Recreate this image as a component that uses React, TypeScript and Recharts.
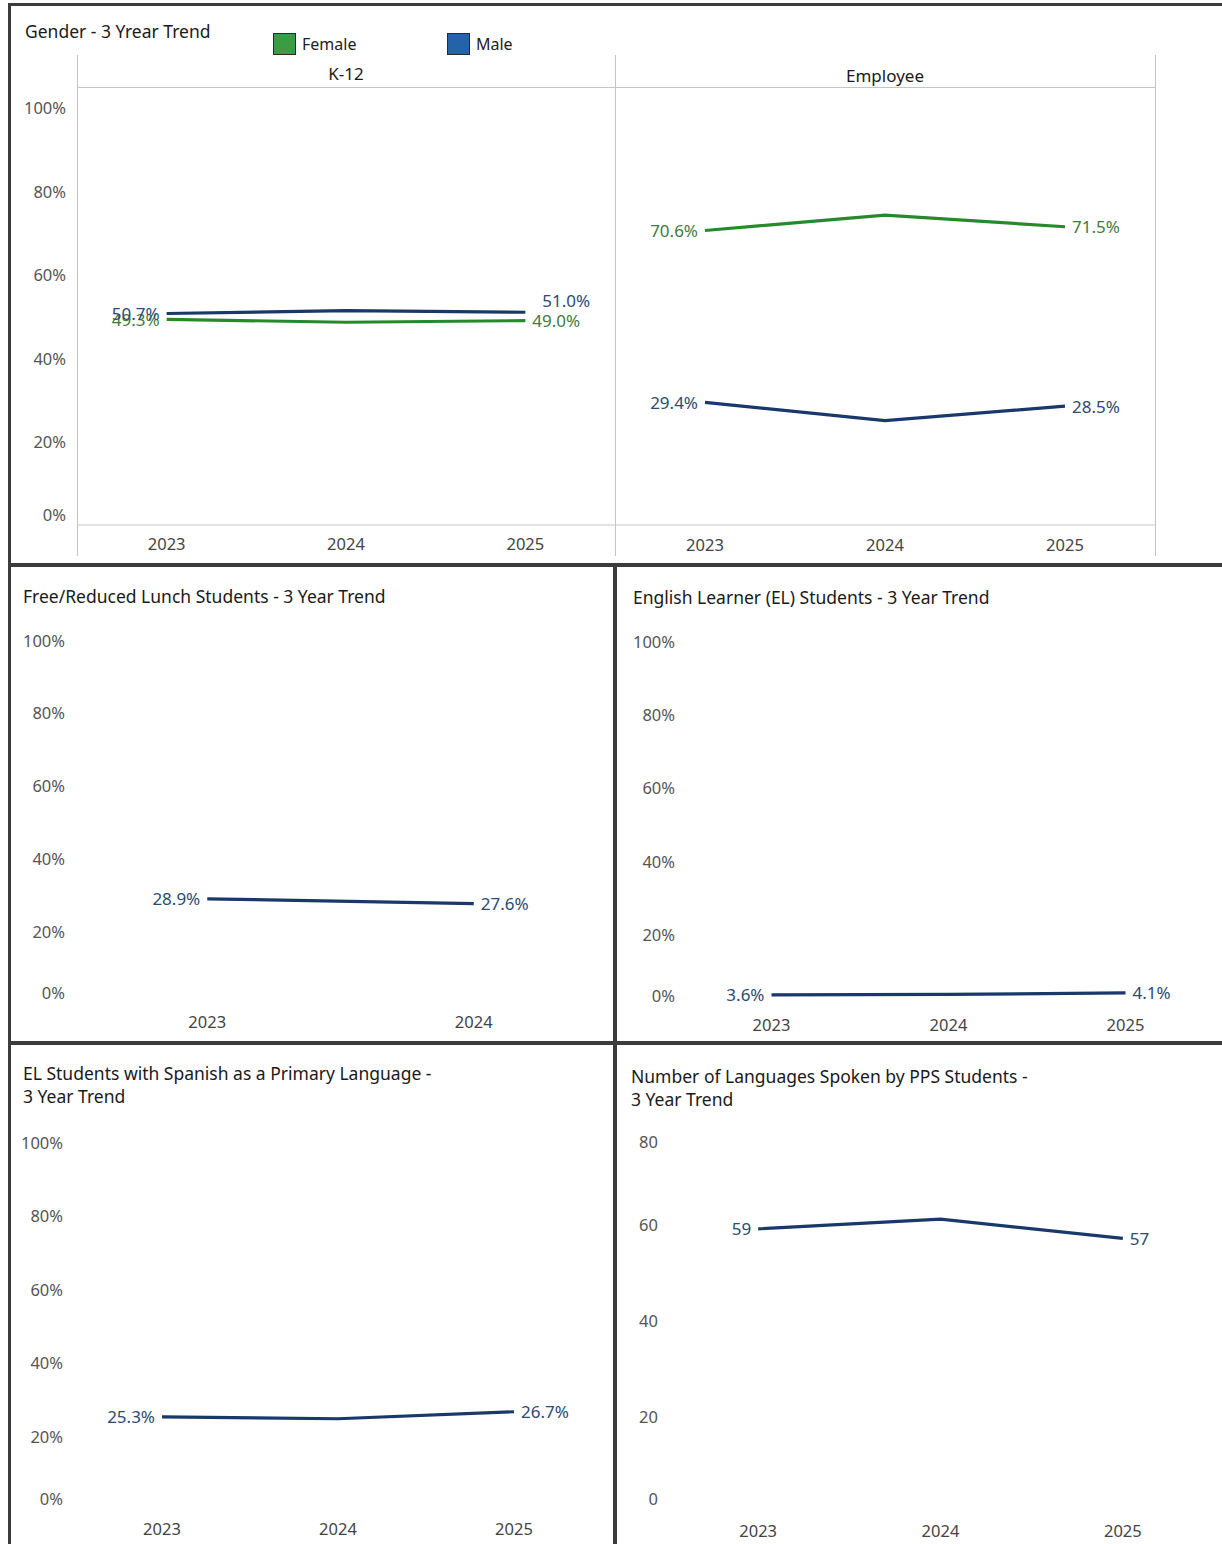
import React from 'react';
import { LineChart, Line, XAxis, YAxis, LabelList } from 'recharts';

// --- data ---
const years = ['2023', '2024', '2025'];
const lunchYears = ['2023', '2024'];

const k12Female = [49.3, 48.6, 49.0];
const k12Male = [50.7, 51.4, 51.0];
const employeeFemale = [70.6, 74.3, 71.5];
const employeeMale = [29.4, 25.0, 28.5];

const lunchPct = [28.9, 27.6];
const elPct = [3.6, 3.7, 4.1];
const spanishPct = [25.3, 24.8, 26.7];
const languageCount = [59, 61, 57];

const pctTicks = [0, 20, 40, 60, 80, 100];
const countTicks = [0, 20, 40, 60, 80];

const FONT = '"Noto Sans", Lato, sans-serif';
const GREEN = '#268a2c';
const NAVY = '#18396a';
const GREEN_TEXT = '#3f7a43';
const NAVY_TEXT = '#2c4a72';
const BORDER = '#3c3c3c';
const RULE = '#c4c4c4';
const TICK_SIZE = 16.5;
const LABEL_SIZE = 17;

const pct = (v: number) => `${v.toFixed(1)}%`;
const pctTick = (v: number) => `${v}%`;
const plain = (v: number) => `${v}`;

type Box = { left: number; top: number; width: number; height: number };
type Plot = { left: number; right: number; top: number; bottom: number };
type SeriesDef = {
  key: string;
  color: string;
  labelColor: string;
  lastDx?: number;
  lastDy?: number;
};

function endLabel(s: SeriesDef, n: number, fmt: (v: number) => string) {
  return (props: any) => {
    const { x, y, value, index } = props;
    if (index !== 0 && index !== n - 1) return null;
    const first = index === 0;
    const dx = first ? -7 : 7 + (s.lastDx ?? 0);
    const dy = first ? 0 : s.lastDy ?? 0;
    return (
      <text
        x={x + dx}
        y={y + dy}
        textAnchor={first ? 'end' : 'start'}
        dominantBaseline="central"
        fill={s.labelColor}
        fontSize={LABEL_SIZE}
        fontFamily={FONT}
      >
        {fmt(value)}
      </text>
    );
  };
}

type TrendProps = {
  box: Box;
  plot: Plot;
  data: any[];
  series: SeriesDef[];
  domain: [number, number];
  ticks?: number[];
  tickFmt?: (v: number) => string;
  valueFmt: (v: number) => string;
  showY?: boolean;
  yGap?: number;
  xGap: number;
  topShift?: number;
  bottomShift?: number;
  axisLine?: boolean;
};

function TrendChart({
  box,
  plot,
  data,
  series,
  domain,
  ticks,
  tickFmt = plain,
  valueFmt,
  showY = true,
  yGap = 10,
  xGap,
  topShift = 0,
  bottomShift = 0,
  axisLine = false,
}: TrendProps) {
  const yWidth = showY ? 50 : 0;
  const xHeight = 30;
  const margin = {
    top: plot.top - box.top,
    left: plot.left - box.left - yWidth,
    right: box.left + box.width - plot.right,
    bottom: box.top + box.height - plot.bottom - xHeight,
  };
  const pad = (plot.right - plot.left) / data.length / 2;

  return (
    <div style={{ position: 'absolute', left: box.left, top: box.top }}>
      <LineChart width={box.width} height={box.height} data={data} margin={margin}>
        <XAxis
          dataKey="year"
          height={xHeight}
          padding={{ left: pad, right: pad }}
          tickLine={false}
          axisLine={axisLine ? { stroke: RULE, strokeWidth: 1 } : false}
          tickSize={0}
          tickMargin={xGap}
          interval={0}
          tick={(p: any) => (
            <text
              x={p.x}
              y={p.y}
              textAnchor="middle"
              dominantBaseline="central"
              fill="#444"
              fontSize={TICK_SIZE}
              fontFamily={FONT}
            >
              {p.payload.value}
            </text>
          )}
        />
        <YAxis
          hide={!showY}
          width={yWidth}
          domain={domain}
          ticks={ticks}
          interval={0}
          allowDataOverflow
          tickLine={false}
          axisLine={false}
          tickSize={0}
          tickMargin={yGap}
          tick={(p: any) => {
            const v = p.payload.value;
            let dy = 0;
            if (v === 0) dy = bottomShift;
            if (ticks && v === ticks[ticks.length - 1]) dy = topShift;
            return (
              <text
                x={p.x}
                y={p.y + dy}
                textAnchor="end"
                dominantBaseline="central"
                fill="#555"
                fontSize={TICK_SIZE}
                fontFamily={FONT}
              >
                {tickFmt(v)}
              </text>
            );
          }}
        />
        {series.map((s) => (
          <Line
            key={s.key}
            type="linear"
            dataKey={s.key}
            stroke={s.color}
            strokeWidth={3.2}
            dot={false}
            activeDot={false}
            isAnimationActive={false}
          >
            <LabelList dataKey={s.key} content={endLabel(s, data.length, valueFmt)} />
          </Line>
        ))}
      </LineChart>
    </div>
  );
}

function Title({ x, y, lines }: { x: number; y: number; lines: string[] }) {
  return (
    <div
      style={{
        position: 'absolute',
        left: x,
        top: y - 12,
        fontFamily: FONT,
        fontSize: 17.5,
        lineHeight: '23px',
        color: '#1a1a1a',
        whiteSpace: 'nowrap',
      }}
    >
      {lines.map((l) => (
        <div key={l}>{l}</div>
      ))}
    </div>
  );
}

function Rule({ x, y, w, h, c }: { x: number; y: number; w: number; h: number; c: string }) {
  return <div style={{ position: 'absolute', left: x, top: y, width: w, height: h, background: c }} />;
}

function Centered({ x, y, text }: { x: number; y: number; text: string }) {
  return (
    <div
      style={{
        position: 'absolute',
        left: x - 100,
        width: 200,
        top: y - 12,
        lineHeight: '23px',
        textAlign: 'center',
        fontFamily: FONT,
        fontSize: 17,
        color: '#1a1a1a',
      }}
    >
      {text}
    </div>
  );
}

const genderSeries = [
  { name: 'Female', color: GREEN, swatch: '#3a9c45' },
  { name: 'Male', color: NAVY, swatch: '#2463a9' },
];

export default function App() {
  const k12Data = years.map((year, i) => ({ year, female: k12Female[i], male: k12Male[i] }));
  const empData = years.map((year, i) => ({ year, female: employeeFemale[i], male: employeeMale[i] }));
  const lunchData = lunchYears.map((year, i) => ({ year, value: lunchPct[i] }));
  const elData = years.map((year, i) => ({ year, value: elPct[i] }));
  const spanishData = years.map((year, i) => ({ year, value: spanishPct[i] }));
  const langData = years.map((year, i) => ({ year, value: languageCount[i] }));

  const single: SeriesDef[] = [{ key: 'value', color: NAVY, labelColor: NAVY_TEXT }];

  return (
    <div
      style={{
        position: 'absolute',
        left: 0,
        top: 0,
        width: 1222,
        height: 1544,
        background: '#fff',
        overflow: 'hidden',
      }}
    >
      {/* dashboard frame */}
      <Rule x={8} y={3} w={1214} h={3} c={BORDER} />
      <Rule x={8} y={3} w={3} h={1541} c={BORDER} />
      <Rule x={8} y={563} w={1214} h={4} c={BORDER} />
      <Rule x={613} y={563} w={4} h={981} c={BORDER} />
      <Rule x={8} y={1041} w={1214} h={4} c={BORDER} />

      {/* gender panel */}
      <Title x={25} y={32} lines={['Gender - 3 Yrear Trend']} />
      {genderSeries.map((g, i) => (
        <div
          key={g.name}
          style={{
            position: 'absolute',
            left: 273 + i * 174,
            top: 33,
            display: 'flex',
            alignItems: 'center',
            fontFamily: FONT,
            fontSize: 16,
            color: '#222',
          }}
        >
          <div
            style={{
              width: 21,
              height: 20,
              background: g.swatch,
              border: '1px solid #2a2a2a',
              marginRight: 6,
            }}
          />
          {g.name}
        </div>
      ))}
      <Rule x={77} y={55} w={1} h={501} c={RULE} />
      <Rule x={615} y={55} w={1} h={501} c={RULE} />
      <Rule x={1155} y={55} w={1} h={501} c={RULE} />
      <Rule x={77} y={87} w={1078} h={1} c={RULE} />
      <Centered x={346} y={74} text="K-12" />
      <Centered x={885} y={76} text="Employee" />

      <TrendChart
        box={{ left: 10, top: 60, width: 605, height: 500 }}
        plot={{ left: 77, right: 615, top: 87, bottom: 525 }}
        data={k12Data}
        series={[
          { key: 'female', color: GREEN, labelColor: GREEN_TEXT },
          { key: 'male', color: NAVY, labelColor: NAVY_TEXT, lastDx: 10, lastDy: -12 },
        ]}
        domain={[0, 105]}
        ticks={pctTicks}
        tickFmt={pctTick}
        valueFmt={pct}
        yGap={11}
        xGap={18}
        bottomShift={-11}
        axisLine
      />
      <TrendChart
        box={{ left: 615, top: 60, width: 540, height: 500 }}
        plot={{ left: 615, right: 1155, top: 87, bottom: 525 }}
        data={empData}
        series={[
          { key: 'female', color: GREEN, labelColor: GREEN_TEXT },
          { key: 'male', color: NAVY, labelColor: NAVY_TEXT },
        ]}
        domain={[0, 105]}
        ticks={pctTicks}
        valueFmt={pct}
        showY={false}
        xGap={19}
        axisLine
      />

      {/* free / reduced lunch */}
      <Title x={23} y={597} lines={['Free/Reduced Lunch Students - 3 Year Trend']} />
      <TrendChart
        box={{ left: 11, top: 620, width: 602, height: 418 }}
        plot={{ left: 74, right: 607, top: 640, bottom: 1004 }}
        data={lunchData}
        series={single}
        domain={[0, 100]}
        ticks={pctTicks}
        tickFmt={pctTick}
        valueFmt={pct}
        yGap={9}
        xGap={17}
        bottomShift={-12}
      />

      {/* english learners */}
      <Title x={633} y={598} lines={['English Learner (EL) Students - 3 Year Trend']} />
      <TrendChart
        box={{ left: 618, top: 620, width: 604, height: 418 }}
        plot={{ left: 683, right: 1214, top: 641, bottom: 1008 }}
        data={elData}
        series={single}
        domain={[0, 100]}
        ticks={pctTicks}
        tickFmt={pctTick}
        valueFmt={pct}
        yGap={8}
        xGap={16}
        bottomShift={-13}
      />

      {/* spanish speaking EL */}
      <Title
        x={23}
        y={1074}
        lines={['EL Students with Spanish as a Primary Language -', '3 Year Trend']}
      />
      <TrendChart
        box={{ left: 11, top: 1120, width: 602, height: 424 }}
        plot={{ left: 74, right: 602, top: 1142, bottom: 1510 }}
        data={spanishData}
        series={single}
        domain={[0, 100]}
        ticks={pctTicks}
        tickFmt={pctTick}
        valueFmt={pct}
        yGap={11}
        xGap={18}
        bottomShift={-12}
      />

      {/* number of languages */}
      <Title
        x={631}
        y={1077}
        lines={['Number of Languages Spoken by PPS Students -', '3 Year Trend']}
      />
      <TrendChart
        box={{ left: 618, top: 1115, width: 604, height: 429 }}
        plot={{ left: 667, right: 1214, top: 1128, bottom: 1512 }}
        data={langData}
        series={single}
        domain={[0, 80]}
        ticks={countTicks}
        tickFmt={plain}
        valueFmt={plain}
        yGap={9}
        xGap={18}
        topShift={13}
        bottomShift={-14}
      />
    </div>
  );
}
